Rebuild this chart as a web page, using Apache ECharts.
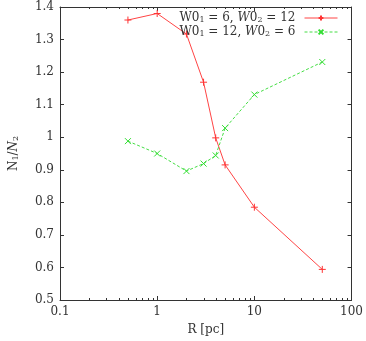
<!DOCTYPE html>
<html>
<head>
<meta charset="utf-8">
<script src="https://cdn.jsdelivr.net/npm/echarts@6/dist/echarts.min.js"></script>
<style>
  html, body { margin: 0; padding: 0; background: #fff; }
  #chart { width: 366px; height: 341px; }
</style>
</head>
<body>
<div id="chart"></div>
<script>
var radii = [0.5, 1, 2, 3, 4, 5, 10, 50];
var ratioA = [1.360, 1.380, 1.317, 1.169, 0.998, 0.915, 0.785, 0.594]; // W0_1 = 6, W0_2 = 12
var ratioB = [0.988, 0.950, 0.896, 0.919, 0.944, 1.028, 1.131, 1.231]; // W0_1 = 12, W0_2 = 6
var minorX = [0.2, 0.3, 0.4, 0.5, 0.6, 0.7, 0.8, 0.9, 2, 3, 4, 5, 6, 7, 8, 9, 20, 30, 40, 50, 60, 70, 80, 90];
var yMin = 0.5, yMax = 1.4;

var font = 'DejaVu Serif';
var axisColor = '#333';
var textColor = '#333';

function pairs(xs, ys) {
  return xs.map(function (x, i) { return [x, ys[i]]; });
}

var myChart = echarts.init(document.getElementById('chart'));

var plus = 'path://M0,5L10,5M5,0L5,10';
var cross = 'path://M0,0L10,10M0,10L10,0';

var richText = {
  s: { fontFamily: font, fontSize: 8, color: textColor, verticalAlign: 'bottom', lineHeight: 12, padding: [4, 0, 0, 0] },
  i: { fontFamily: font, fontSize: 12, color: textColor, fontStyle: 'italic', lineHeight: 12 }
};

myChart.setOption({
  animation: false,
  grid: { left: 58, right: 13, top: 7, bottom: 40 },
  legend: {
    orient: 'vertical',
    right: 28,
    top: 12,
    padding: 0,
    align: 'right',
    itemWidth: 33,
    itemHeight: 6,
    itemGap: 2,
    data: ['a', 'b'],
    lineStyle: { width: 1 },
    formatter: function (name) {
      if (name === 'a') return 'W0{s|1} = 6, {i|W}0{s|2} = 12';
      return 'W0{s|1} = 12, {i|W}0{s|2} = 6';
    },
    textStyle: { fontFamily: font, fontSize: 12, color: textColor, lineHeight: 12, padding: [0, 4, 0, 0], rich: richText }
  },
  xAxis: [{
    type: 'log',
    logBase: 10,
    min: 0.1,
    max: 100,
    name: 'R [pc]',
    nameLocation: 'middle',
    nameGap: 24,
    nameTextStyle: { fontFamily: font, fontSize: 12, color: textColor },
    axisLine: { onZero: false, lineStyle: { color: axisColor, width: 1 } },
    axisTick: { inside: true, length: 4, lineStyle: { color: axisColor } },
    axisLabel: { fontFamily: font, fontSize: 12, color: textColor, margin: 6 },
    splitLine: { show: false }
  }, {
    type: 'log',
    position: 'top',
    min: 0.1,
    max: 100,
    axisLine: { lineStyle: { color: axisColor, width: 1 } },
    axisTick: { inside: true, length: 4, lineStyle: { color: axisColor } },
    axisLabel: { show: false },
    splitLine: { show: false }
  }],
  yAxis: [{
    type: 'value',
    min: yMin,
    max: yMax,
    interval: 0.1,
    name: 'N{s|1}/{i|N}{s|2}',
    nameLocation: 'middle',
    nameGap: 40,
    nameRotate: 90,
    nameTextStyle: { fontFamily: font, fontSize: 12, color: textColor, rich: richText },
    axisLine: { show: true, lineStyle: { color: axisColor, width: 1 } },
    axisTick: { show: true, inside: true, length: 4, lineStyle: { color: axisColor } },
    axisLabel: {
      fontFamily: font, fontSize: 12, color: textColor, margin: 6,
      formatter: function (v) { return v === 1 ? '1' : v.toFixed(1); }
    },
    splitLine: { show: false }
  }, {
    type: 'value',
    position: 'right',
    min: yMin,
    max: yMax,
    interval: 0.1,
    axisLine: { show: true, lineStyle: { color: axisColor, width: 1 } },
    axisTick: { show: true, inside: true, length: 4, lineStyle: { color: axisColor } },
    axisLabel: { show: false },
    splitLine: { show: false }
  }],
  series: [{
    name: 'a',
    type: 'line',
    data: pairs(radii, ratioA),
    symbol: plus,
    symbolSize: 7,
    showAllSymbol: true,
    itemStyle: { color: '#ff3333', borderColor: '#ff3333', borderWidth: 1 },
    lineStyle: { color: '#ff4444', width: 1 },
    z: 3
  }, {
    name: 'b',
    type: 'line',
    data: pairs(radii, ratioB),
    symbol: cross,
    symbolSize: 6,
    showAllSymbol: true,
    itemStyle: { color: '#33dd33', borderColor: '#33dd33', borderWidth: 1 },
    lineStyle: { color: '#44dd44', width: 1, type: [3, 2] },
    z: 3
  }]
});

// minor log ticks (gnuplot style), placed through the axis scale
var minorTicks = [];
minorX.forEach(function (x) {
  var b = myChart.convertToPixel({ xAxisIndex: 0, yAxisIndex: 0 }, [x, yMin]);
  var t = myChart.convertToPixel({ xAxisIndex: 0, yAxisIndex: 0 }, [x, yMax]);
  var px = Math.round(b[0]) + 0.5;
  minorTicks.push({ type: 'line', silent: true, z: 10,
    shape: { x1: px, y1: b[1], x2: px, y2: b[1] - 2 }, style: { stroke: axisColor, lineWidth: 1 } });
  minorTicks.push({ type: 'line', silent: true, z: 10,
    shape: { x1: px, y1: t[1], x2: px, y2: t[1] + 2 }, style: { stroke: axisColor, lineWidth: 1 } });
});
myChart.setOption({ graphic: minorTicks });
</script>
</body>
</html>
